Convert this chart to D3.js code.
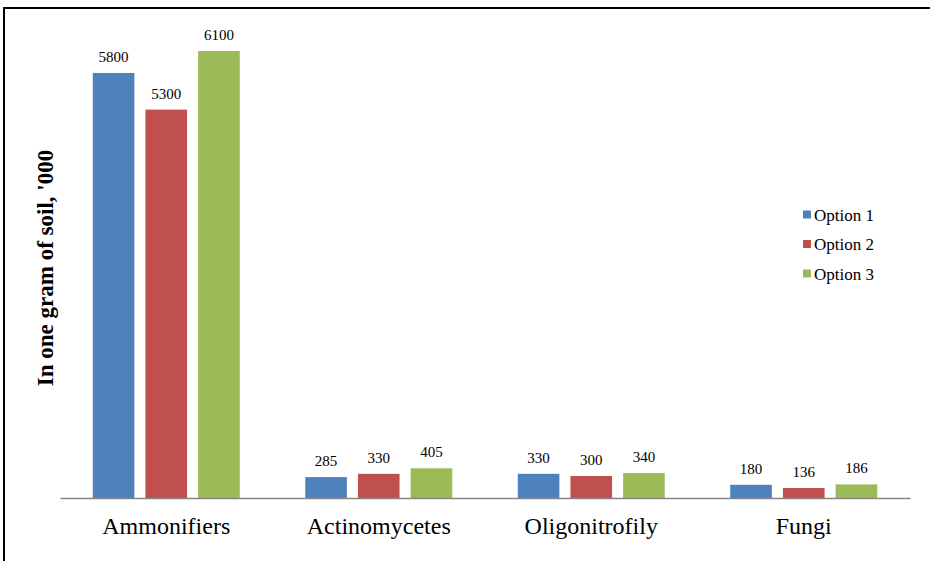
<!DOCTYPE html>
<html><head><meta charset="utf-8">
<script src="https://cdn.jsdelivr.net/npm/d3@7/dist/d3.min.js"></script>
<style>body{margin:0;background:#fff;}svg{display:block;}</style>
</head><body>
<svg id="c" width="930" height="561"></svg>
<script>
const categories = ["Ammonifiers", "Actinomycetes", "Oligonitrofily", "Fungi"];
const seriesNames = ["Option 1", "Option 2", "Option 3"];
const option1 = [5800, 285, 330, 180];
const option2 = [5300, 330, 300, 136];
const option3 = [6100, 405, 340, 186];
const colors = ["#4F81BD", "#C0504D", "#9BBB59"];
const yLabel = "In one gram of soil, '000";

const series = [option1, option2, option3];
const svg = d3.select("#c");
const font = "'Liberation Serif','Times New Roman',serif";

// frame
svg.append("rect").attr("x", 4).attr("y", 8).attr("width", 940).attr("height", 570)
  .attr("fill", "none").attr("stroke", "#000").attr("stroke-width", 2);

const x0 = d3.scaleBand().domain(categories).range([60, 910]);
const x1 = d3.scaleBand().domain(seriesNames).range([0, 147]).paddingInner(0.21);
const y = d3.scaleLinear().domain([0, 6000]).range([498, 58.3]);

const groups = svg.append("g").selectAll("g").data(categories).join("g")
  .attr("transform", d => `translate(${x0(d) + (x0.bandwidth() - 147) / 2},0)`);

seriesNames.forEach((s, si) => {
  groups.append("rect")
    .attr("x", x1(s))
    .attr("y", (d, i) => y(series[si][i]))
    .attr("width", x1.bandwidth())
    .attr("height", (d, i) => y(0) - y(series[si][i]))
    .attr("fill", colors[si]);
  groups.append("text")
    .attr("x", x1(s) + x1.bandwidth() / 2)
    .attr("y", (d, i) => y(series[si][i]) - 11)
    .attr("text-anchor", "middle")
    .attr("font-family", font).attr("font-size", 15)
    .text((d, i) => series[si][i]);
});

// x axis
const xAxis = d3.axisBottom(x0).tickSize(0).tickPadding(19);
const ax = svg.append("g").attr("transform", `translate(0,${y(0)})`).call(xAxis);
ax.select(".domain").attr("stroke", "#868686").attr("stroke-width", 1.5);
ax.selectAll("text").attr("font-family", font).attr("font-size", 24).attr("fill", "#000");

// y label
svg.append("text")
  .attr("transform", "translate(53,268) rotate(-90)")
  .attr("text-anchor", "middle")
  .attr("font-family", font).attr("font-size", 23).attr("font-weight", "bold")
  .text(yLabel);

// legend
const lg = svg.append("g").attr("transform", "translate(803,215)");
seriesNames.forEach((s, i) => {
  lg.append("rect").attr("x", 0).attr("y", i * 29.5 - 4.5).attr("width", 8).attr("height", 8).attr("fill", colors[i]);
  lg.append("text").attr("x", 11).attr("y", i * 29.5 + 5.5)
    .attr("font-family", font).attr("font-size", 17).text(s);
});
</script>
</body></html>
